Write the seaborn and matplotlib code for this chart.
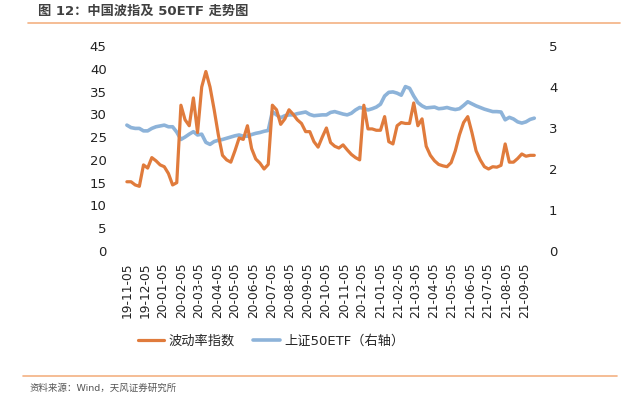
import numpy as np
import pandas as pd
import matplotlib
matplotlib.use("Agg")
import matplotlib.pyplot as plt
import matplotlib.dates as mdates
from matplotlib.lines import Line2D
import seaborn as sns

# weekly readings, starting 2019-11-05
START = "2019-11-05"

vix_index = [
    15.2, 15.2, 14.5, 14.2, 18.9, 18.2, 20.5, 19.8, 18.9, 18.5,
    17.0, 14.5, 15.0, 32.0, 28.8, 27.5, 33.6, 26.0, 36.0, 39.4,
    36.0, 31.0, 25.5, 21.0, 20.0, 19.5, 22.0, 24.8, 24.5, 27.5,
    22.5, 20.2, 19.3, 18.0, 19.0, 32.0, 31.0, 27.8, 29.0, 31.0,
    30.0, 28.8, 28.0, 26.2, 26.2, 24.0, 22.8, 25.0, 27.0, 23.8,
    23.0, 22.6, 23.3, 22.2, 21.2, 20.5, 20.0, 32.0, 26.8, 26.8,
    26.5, 26.5, 29.5, 24.0, 23.5, 27.5, 28.2, 28.0, 28.0, 32.5,
    27.5, 29.0, 23.0, 21.0, 19.8, 19.0, 18.7, 18.5, 19.4, 22.0,
    25.5, 28.2, 29.5, 26.0, 22.0, 20.0, 18.5, 18.0, 18.5, 18.4,
    18.8, 23.5, 19.5, 19.5, 20.3, 21.3, 20.8, 21.0, 21.0,
]

etf50 = [
    3.07, 3.01, 2.99, 2.99, 2.93, 2.93, 2.99, 3.03, 3.05, 3.07,
    3.03, 3.03, 2.90, 2.72, 2.78, 2.85, 2.91, 2.83, 2.85, 2.65,
    2.60, 2.67, 2.70, 2.72, 2.75, 2.78, 2.81, 2.83, 2.80, 2.80,
    2.84, 2.87, 2.89, 2.92, 2.94, 3.40, 3.32, 3.25, 3.30, 3.32,
    3.32, 3.35, 3.37, 3.39, 3.33, 3.30, 3.31, 3.32, 3.32, 3.38,
    3.40, 3.37, 3.34, 3.32, 3.36, 3.44, 3.50, 3.48, 3.44, 3.47,
    3.51, 3.58, 3.78, 3.87, 3.88, 3.85, 3.80, 4.01, 3.97, 3.78,
    3.62, 3.54, 3.49, 3.50, 3.51, 3.47, 3.48, 3.50, 3.47, 3.45,
    3.47, 3.55, 3.64, 3.59, 3.54, 3.50, 3.46, 3.43, 3.40, 3.40,
    3.39, 3.20, 3.26, 3.22, 3.15, 3.12, 3.15, 3.21, 3.24,
]

tick_dates = pd.date_range("2019-11-01", "2021-09-01", freq="MS") + pd.Timedelta(days=4)

ORANGE = "#E07B3C"
BLUE = "#8DB3D9"

sns.set_style("white")
plt.rcParams["font.family"] = ["DejaVu Sans", "Noto Sans CJK SC"]

df = pd.DataFrame({
    "date": pd.date_range(START, periods=len(vix_index), freq="7D"),
    "vix": vix_index,
    "etf": etf50,
})

fig = plt.figure(figsize=(6.4, 3.95), dpi=100)
ax = fig.add_axes([115 / 640, 1 - 251 / 395, 427 / 640, 205 / 395])
ax2 = ax.twinx()

sns.lineplot(data=df, x="date", y="etf", ax=ax2, color=BLUE, linewidth=2.6)
sns.lineplot(data=df, x="date", y="vix", ax=ax, color=ORANGE, linewidth=2.3)
ax.set_zorder(ax2.get_zorder() + 1)
ax.patch.set_visible(False)

ax.set_xlim(pd.Timestamp("2019-10-16"), pd.Timestamp("2021-10-04"))
ax.set_ylim(0, 45)
ax2.set_ylim(0, 5)
ax.set_yticks(np.arange(0, 46, 5))
ax2.set_yticks(np.arange(0, 6, 1))
ax.set_xticks(tick_dates)
ax.xaxis.set_major_formatter(mdates.DateFormatter("%y-%m-%d"))

for a in (ax, ax2):
    for s in a.spines.values():
        s.set_visible(False)
    a.set_xlabel("")
    a.set_ylabel("")
    a.grid(False)

ax.tick_params(axis="x", length=0, pad=8, labelsize=8.8, labelrotation=90, colors="#222222")
ax.tick_params(axis="y", length=0, pad=6, labelsize=9.5, colors="#222222")
ax2.tick_params(axis="y", length=0, pad=5, labelsize=9.5, colors="#222222")

handles = [
    Line2D([], [], color=ORANGE, linewidth=2.3),
    Line2D([], [], color=BLUE, linewidth=2.6),
]
fig.legend(handles, ["波动率指数", "上证50ETF（右轴）"], loc="center",
           bbox_to_anchor=(271 / 640, 1 - 341 / 395), ncol=2, frameon=False,
           fontsize=9.5, handlelength=2.0, handletextpad=0.35, columnspacing=1.4)

fig.text(38 / 640, 1 - 11 / 395, "图 12：中国波指及 50ETF 走势图", fontsize=9.5,
         fontweight="bold", color="#404040", va="center", ha="left")
fig.add_artist(Line2D([28 / 640, 620 / 640], [1 - 23 / 395] * 2, color="#F4B183", linewidth=1.2))
fig.add_artist(Line2D([23 / 640, 617 / 640], [1 - 376 / 395] * 2, color="#F4B183", linewidth=1.2))
fig.text(30 / 640, 1 - 388 / 395, "资料来源：Wind，天风证券研究所", fontsize=6.8,
         color="#555555", va="center", ha="left")

fig.savefig("out.png", dpi=100)
